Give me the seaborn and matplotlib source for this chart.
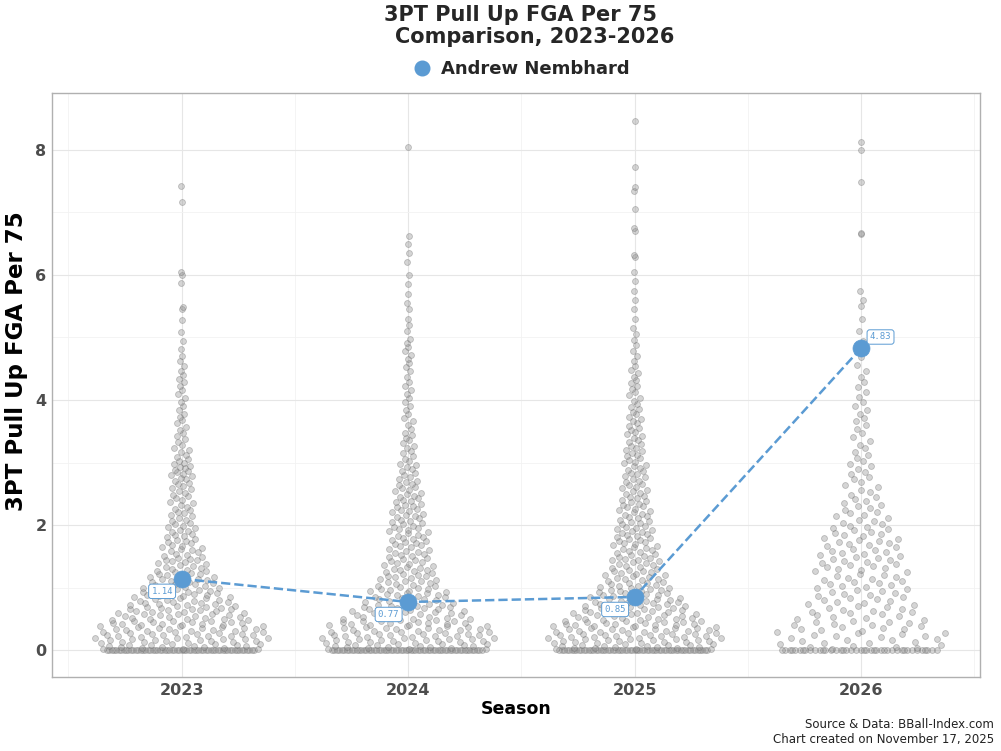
import numpy as np
import pandas as pd
import seaborn as sns
import matplotlib.pyplot as plt
from matplotlib.lines import Line2D

# ---------------- data ----------------
seasons = ["2023", "2024", "2025", "2026"]
bin_starts = [0.00, 0.25, 0.50, 0.75, 1.00, 1.25, 1.50, 1.75, 2.00, 2.25,
              2.50, 2.75, 3.00, 3.25, 3.50, 3.75, 4.00, 4.25, 4.50, 4.75]
bin_width = 0.25

zeros_2023 = 60
counts_2023 = [44, 42, 34, 28, 22, 17, 14, 12, 10, 9, 9, 12, 7, 5, 5, 4, 4, 4, 3, 2]
tail_2023 = [5.09, 5.28, 5.45, 5.49, 5.87, 6.0, 6.05, 7.17, 7.42]

zeros_2024 = 60
counts_2024 = [44, 40, 30, 23, 19, 16, 15, 14, 13, 12, 10, 8, 6, 6, 4, 4, 4, 3, 4, 4]
tail_2024 = [5.1, 5.2, 5.3, 5.45, 5.55, 5.7, 5.85, 6.0, 6.2, 6.35, 6.5, 6.62, 8.05]

zeros_2025 = 60
counts_2025 = [46, 42, 33, 26, 20, 17, 16, 15, 13, 12, 10, 10, 9, 8, 7, 6, 5, 5, 3, 3]
tail_2025 = [5.05, 5.15, 5.3, 5.45, 5.6, 5.75, 5.9, 6.05, 6.28, 6.32, 6.7, 6.75,
             7.05, 7.35, 7.4, 7.72, 8.47]

zeros_2026 = 40
counts_2026 = [20, 20, 16, 16, 15, 15, 15, 13, 10, 8, 6, 6, 5, 4, 4, 4, 3, 3, 2, 2]
tail_2026 = [5.1, 5.3, 5.5, 5.6, 5.75, 6.65, 6.67, 7.48, 8.0, 8.12]

player_name = "Andrew Nembhard"
player_values = [1.14, 0.77, 0.85, 4.83]

zeros_all = [zeros_2023, zeros_2024, zeros_2025, zeros_2026]
counts_all = [counts_2023, counts_2024, counts_2025, counts_2026]
tails_all = [tail_2023, tail_2024, tail_2025, tail_2026]

BLUE = "#5b9bd3"


def vdc(n):
    v, denom = 0.0, 1.0
    while n:
        denom *= 2
        n, r = divmod(n, 2)
        v += r / denom
    return v


def quasi_offsets(vals, width=0.4, bw=0.3, power=1.3):
    vals = np.asarray(vals, dtype=float)
    order = np.argsort(vals, kind="stable")
    dens = np.exp(-0.5 * ((vals[:, None] - vals[None, :]) / bw) ** 2).sum(1)
    dens = (dens / dens.max()) ** power
    q = np.array([vdc(i + 1) for i in range(len(vals))])
    off = np.empty(len(vals))
    off[order] = (q - 0.5) * 2 * width * dens[order]
    return off


rows = []
for si, s in enumerate(seasons):
    vals = [0.0] * zeros_all[si]
    for b, c in zip(bin_starts, counts_all[si]):
        vals += [b + bin_width * (i + 0.5) / c for i in range(c)]
    vals += tails_all[si]
    offs = quasi_offsets(vals)
    for v, o in zip(vals, offs):
        rows.append({"Season": s, "value": v, "xpos": si + o})
df = pd.DataFrame(rows)

pdf = pd.DataFrame({"Season": seasons, "value": player_values,
                    "xpos": np.arange(len(seasons))})

# ---------------- plot ----------------
sns.set_theme(style="white")
plt.rcParams["font.family"] = ["DejaVu Sans"]

fig = plt.figure(figsize=(10.01, 7.51), dpi=100)
ax = fig.add_axes([52 / 1001, 1 - 677 / 751, (980 - 52) / 1001, (677 - 93) / 751])

sns.scatterplot(data=df, x="xpos", y="value", ax=ax, color="#939393",
                edgecolor="#666666", linewidth=0.6, alpha=0.38, s=18,
                legend=False, zorder=2)

sns.lineplot(data=pdf, x="xpos", y="value", ax=ax, color=BLUE, lw=1.8,
             dashes=(4, 2.5), legend=False, zorder=3, linestyle="--")
sns.scatterplot(data=pdf, x="xpos", y="value", ax=ax, color=BLUE, s=150,
                edgecolor=BLUE, linewidth=0.5, legend=False, zorder=4)

offsets = [(-14, -9), (-14, -9), (-14, -9), (14, 8)]
for (x, y, v), (dx, dy) in zip(zip(pdf["xpos"], pdf["value"], player_values), offsets):
    ax.annotate(f"{v:.2f}", (x, y), xytext=(dx, dy), textcoords="offset points",
                ha="center", va="center", fontsize=6.5, color=BLUE,
                family="DejaVu Sans Mono", zorder=5,
                bbox=dict(boxstyle="round,pad=0.3", fc="white", ec=BLUE, lw=0.7))

ax.set_xlim(-0.572, 3.525)
ax.set_ylim(-0.43, 8.91)
ax.set_xticks(range(len(seasons)))
ax.set_xticklabels(seasons)
ax.set_xticks([-0.5, 0.5, 1.5, 2.5, 3.5], minor=True)
ax.set_yticks([0, 2, 4, 6, 8])
ax.set_yticks([1, 3, 5, 7], minor=True)
ax.grid(which="major", color="#e6e6e6", lw=0.8)
ax.grid(which="minor", color="#f2f2f2", lw=0.6)
ax.set_axisbelow(True)
for sp in ax.spines.values():
    sp.set_color("#b0b0b0")
    sp.set_linewidth(1.0)
ax.tick_params(axis="both", which="major", length=2, pad=2, color="#b0b0b0",
               labelsize=11.5, labelcolor="#4d4d4d")
ax.tick_params(axis="both", which="minor", length=0)
for lab in ax.get_xticklabels() + ax.get_yticklabels():
    lab.set_fontweight("bold")

ax.set_xlabel("Season", fontsize=12.5, fontweight="bold", color="black", labelpad=2)
ax.set_ylabel("3PT Pull Up FGA Per 75", fontsize=16.5, fontweight="bold", color="black")
ax.yaxis.set_label_coords(-24 / 928, (677 - 361) / (677 - 93))

fig.text(521 / 1001, 1 - 15 / 751, "3PT Pull Up FGA Per 75",
         ha="center", va="center", fontsize=15, fontweight="bold")
fig.text(535 / 1001, 1 - 37 / 751, "Comparison, 2023-2026",
         ha="center", va="center", fontsize=15, fontweight="bold")

handle = Line2D([], [], marker="o", ls="none", color=BLUE, markersize=10.5)
fig.legend([handle], [player_name], loc="center", bbox_to_anchor=(517 / 1001, 1 - 69 / 751),
           frameon=False, prop={"weight": "bold", "size": 13}, handletextpad=0.05,
           borderaxespad=0)

fig.text(994 / 1001, 1 - 725 / 751, "Source & Data: BBall-Index.com",
         ha="right", va="center", fontsize=8.5, color="#222222")
fig.text(994 / 1001, 1 - 739 / 751, "Chart created on November 17, 2025",
         ha="right", va="center", fontsize=8.5, color="#222222")

fig.savefig("out.png", dpi=100)
